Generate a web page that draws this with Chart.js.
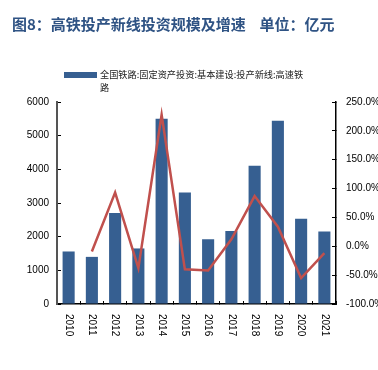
<!DOCTYPE html>
<html>
<head>
<meta charset="utf-8">
<script src="https://cdn.jsdelivr.net/npm/chart.js@4"></script>
<style>
	body { margin: 0; background: #fff; }
	#wrap { position: relative; width: 378px; height: 370px; }
	#title { position: absolute; left: 12px; top: 13px; font: bold 15px "Noto Sans CJK SC", sans-serif; color: #2F5384; white-space: nowrap; }
	#legend { position: absolute; left: 64px; top: 68px; font: 9.2px "Noto Sans CJK SC", sans-serif; color: #222; line-height: 13px; }
	#legend .box { position: absolute; left: 0; top: 4px; width: 33px; height: 6px; background: #365F91; }
	#legend .txt { margin-left: 36px; white-space: nowrap; }
	#chartBox { position: absolute; left: 0; top: 0; width: 378px; height: 370px; }
</style>
</head>
<body>
<div id="wrap">
	<div id="chartBox"><canvas id="myChart" width="378" height="370"></canvas></div>
	<div id="title">图8：高铁投产新线投资规模及增速&nbsp;&nbsp;&nbsp;&nbsp;单位：亿元</div>
	<div id="legend"><div class="box"></div><div class="txt">全国铁路:固定资产投资:基本建设:投产新线:高速铁<br>路</div></div>
</div>
<script>
var years = ['2010', '2011', '2012', '2013', '2014', '2015', '2016', '2017', '2018', '2019', '2020', '2021'];
var investData = [1560, 1400, 2700, 1650, 5500, 3310, 1920, 2170, 4110, 5440, 2530, 2150];
var growthData = [null, -9, 93, -38, 228, -40, -42, 12, 87, 34, -55, -12];
var leftTicks = [0, 1000, 2000, 3000, 4000, 5000, 6000];
var rightTicks = [-100, -50, 0, 50, 100, 150, 200, 250];

var tickFont = { family: '"Liberation Sans", Arial, sans-serif', size: 10 };

// x축 라벨은 위에서 아래로 읽히게 직접 그림
var xLabelPlugin = {
	id: 'xLabelPlugin',
	afterDraw: function(chart) {
		var ctx = chart.ctx;
		var xScale = chart.scales.x;
		ctx.save();
		ctx.font = '10px "Liberation Sans", Arial, sans-serif';
		ctx.fillStyle = '#000';
		ctx.textAlign = 'left';
		ctx.textBaseline = 'middle';
		years.forEach(function(label, i) {
			var x = xScale.getPixelForValue(i);
			ctx.save();
			ctx.translate(x, xScale.top + 10);
			ctx.rotate(Math.PI / 2);
			ctx.fillText(label, 0, 0);
			ctx.restore();
		});
		ctx.restore();
	}
};

var config = {
	data: {
		labels: years,
		datasets: [
			{
				type: 'line',
				data: growthData,
				borderColor: '#C0504D',
				borderWidth: 2.5,
				pointRadius: 0,
				fill: false,
				tension: 0,
				yAxisID: 'y1',
				order: 0
			},
			{
				type: 'bar',
				data: investData,
				backgroundColor: '#365F91',
				barPercentage: 0.52,
				categoryPercentage: 1,
				yAxisID: 'y',
				order: 1
			}
		]
	},
	options: {
		responsive: false,
		animation: false,
		layout: { padding: { top: 102, left: 0, right: 0, bottom: 0 } },
		plugins: {
			legend: { display: false },
			tooltip: { enabled: false }
		},
		scales: {
			x: {
				offset: true,
				ticks: { display: false },
				grid: { display: true, offset: true, drawOnChartArea: false, tickLength: -3, color: '#000', tickColor: '#000' },
				border: { display: true, color: '#000', width: 1.5 },
				afterFit: function(scale) { scale.height = 66; }
			},
			y: {
				position: 'left',
				min: 0,
				max: 6000,
				afterBuildTicks: function(scale) {
					scale.ticks = leftTicks.map(function(v) { return { value: v }; });
				},
				ticks: {
					font: tickFont,
					color: '#000',
					padding: 12,
					callback: function(v) { return String(v); }
				},
				grid: { display: true, drawOnChartArea: false, tickLength: -4, tickColor: '#000' },
				border: { display: true, color: '#555', width: 2 },
				afterFit: function(scale) { scale.width = 57; }
			},
			y1: {
				position: 'right',
				min: -100,
				max: 250,
				afterBuildTicks: function(scale) {
					scale.ticks = rightTicks.map(function(v) { return { value: v }; });
				},
				ticks: {
					font: tickFont,
					color: '#000',
					padding: 14,
					callback: function(v) { return v.toFixed(1) + '%'; }
				},
				grid: { display: true, drawOnChartArea: false, tickLength: -4, tickColor: '#000' },
				border: { display: true, color: '#000', width: 1.5 },
				afterFit: function(scale) { scale.width = 42; }
			}
		}
	},
	plugins: [xLabelPlugin]
};

var myChart = new Chart(document.getElementById('myChart'), config);
</script>
</body>
</html>
